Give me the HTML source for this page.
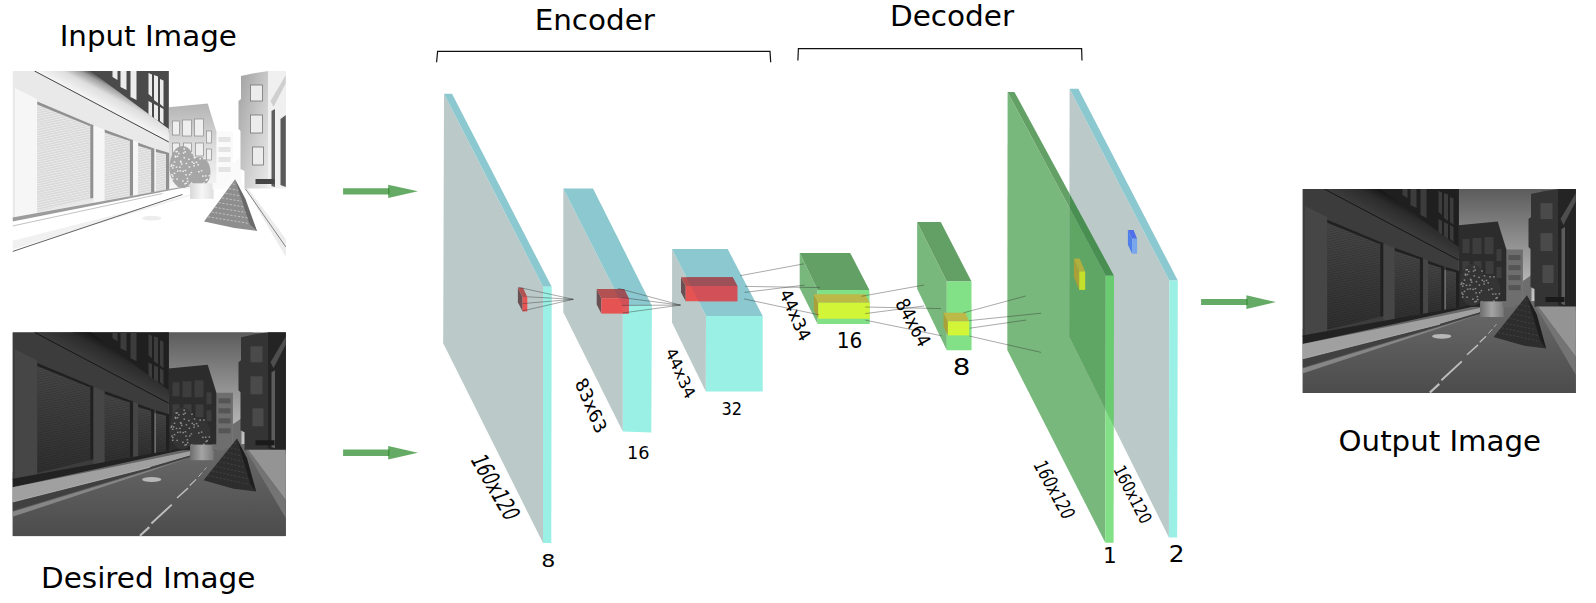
<!DOCTYPE html>
<html lang="en"><head><meta charset="utf-8"><title>Encoder-Decoder network</title>
<style>html,body{margin:0;padding:0;background:#fff}svg{display:block}text{font-family:"DejaVu Sans","Liberation Sans",sans-serif;fill:#000}</style></head><body>
<svg width="1596" height="603" viewBox="0 0 1596 603">
<rect width="1596" height="603" fill="#fff"/>
<defs>
<linearGradient id="skyD" x1="0" y1="0" x2="0" y2="1"><stop offset="0" stop-color="#5c5c5c"/><stop offset="1" stop-color="#c8c8c8"/></linearGradient>
<linearGradient id="roadD" x1="0" y1="0" x2="0" y2="1"><stop offset="0" stop-color="#6a6a6a"/><stop offset="1" stop-color="#4c4c4c"/></linearGradient>
<linearGradient id="plD" x1="0" y1="0" x2="1" y2="0"><stop offset="0" stop-color="#6e6e6e"/><stop offset="0.5" stop-color="#a4a4a4"/><stop offset="1" stop-color="#7a7a7a"/></linearGradient>
<linearGradient id="plB" x1="0" y1="0" x2="1" y2="0"><stop offset="0" stop-color="#d8d8d8"/><stop offset="0.5" stop-color="#f6f6f6"/><stop offset="1" stop-color="#e0e0e0"/></linearGradient>
<linearGradient id="corD" gradientUnits="userSpaceOnUse" x1="50" y1="14.8" x2="62.2" y2="-8.4"><stop offset="0" stop-color="#3c3c3c"/><stop offset="0.6" stop-color="#2c2c2c"/><stop offset="1" stop-color="#151515"/></linearGradient>
<linearGradient id="corB" gradientUnits="userSpaceOnUse" x1="50" y1="14.8" x2="62.2" y2="-8.4"><stop offset="0" stop-color="#f6f6f6"/><stop offset="0.5" stop-color="#dedede"/><stop offset="0.8" stop-color="#a0a0a0"/><stop offset="1" stop-color="#4c4c4c"/></linearGradient>
<linearGradient id="shD" x1="0" y1="0" x2="0" y2="1"><stop offset="0" stop-color="#474747"/><stop offset="1" stop-color="#2f2f2f"/></linearGradient>
<linearGradient id="midB" x1="0" y1="0" x2="0" y2="1"><stop offset="0" stop-color="#b4b4b4"/><stop offset="0.5" stop-color="#dcdcdc"/><stop offset="1" stop-color="#f6f6f6"/></linearGradient>
<linearGradient id="rbB" x1="0" y1="0" x2="1" y2="0.6"><stop offset="0" stop-color="#a0a0a0"/><stop offset="0.6" stop-color="#d4d4d4"/><stop offset="1" stop-color="#f0f0f0"/></linearGradient>
<pattern id="slatD" width="6" height="2.4" patternUnits="userSpaceOnUse" patternTransform="skewY(-12)"><rect width="6" height="0.9" fill="#000" fill-opacity="0.16"/></pattern>
<pattern id="slatB" width="6" height="2.4" patternUnits="userSpaceOnUse" patternTransform="skewY(-12)"><rect width="6" height="0.9" fill="#fff" fill-opacity="0.45"/></pattern>
<clipPath id="ph"><rect x="0" y="0" width="273.4" height="204"/></clipPath>
</defs>
<g transform="translate(12.5 71.0)" clip-path="url(#ph)">
<rect x="0" y="0" width="273.4" height="204" fill="#fff"/>
<rect x="150" y="0" width="90" height="112" fill="#ffffff"/>
<polygon points="0.0,140.0 180.0,112.0 240.0,112.0 273.4,150.0 273.4,204.0 0.0,204.0" fill="#ffffff"/>
<polygon points="203.7,60.4 220.4,60.4 220.4,116.0 203.7,116.0" fill="#fafafa"/>
<rect x="206" y="66" width="12" height="5" fill="#e4e4e4"/>
<rect x="206" y="76" width="12" height="5" fill="#e4e4e4"/>
<rect x="206" y="86" width="12" height="5" fill="#e4e4e4"/>
<rect x="206" y="96" width="12" height="5" fill="#e4e4e4"/>
<polygon points="220.4,92.0 229.0,86.0 229.0,116.0 220.4,116.0" fill="#fafafa"/>
<polygon points="156.0,36.2 195.2,32.4 203.9,60.4 203.9,118.0 156.0,118.0" fill="url(#midB)"/>
<rect x="160" y="50" width="7" height="14" fill="#efefef" stroke="#8a8a8a" stroke-width="0.7"/>
<rect x="170" y="49" width="9" height="16" fill="#efefef" stroke="#8a8a8a" stroke-width="0.7"/>
<rect x="182" y="48" width="9" height="17" fill="#efefef" stroke="#8a8a8a" stroke-width="0.7"/>
<rect x="160" y="72" width="7" height="12" fill="#efefef" stroke="#8a8a8a" stroke-width="0.7"/>
<rect x="171" y="72" width="8" height="13" fill="#efefef" stroke="#8a8a8a" stroke-width="0.7"/>
<rect x="183" y="72" width="8" height="13" fill="#efefef" stroke="#8a8a8a" stroke-width="0.7"/>
<rect x="194" y="60" width="5" height="12" fill="#efefef" stroke="#8a8a8a" stroke-width="0.7"/>
<rect x="194" y="78" width="5" height="11" fill="#efefef" stroke="#8a8a8a" stroke-width="0.7"/>
<polygon points="228.5,5.0 240.0,2.5 256.0,0.0 273.4,0.0 273.4,118.0 232.0,118.0 232.0,100.0 228.0,98.0 228.0,60.0 226.0,58.0 226.0,30.0 228.5,28.0" fill="url(#rbB)"/>
<rect x="238" y="14" width="12" height="16" fill="#ececec" stroke="#777" stroke-width="0.8"/>
<rect x="238" y="44" width="12" height="18" fill="#ececec" stroke="#777" stroke-width="0.8"/>
<rect x="240" y="76" width="11" height="18" fill="#ececec" stroke="#777" stroke-width="0.8"/>
<polygon points="255.5,0.0 273.4,0.0 273.4,122.0 255.5,116.0" fill="#f0f0f0"/>
<polygon points="258.0,30.0 273.4,4.0 273.4,12.0 261.0,36.0" fill="#cfcfcf"/>
<polygon points="259.0,40.0 262.5,38.0 262.5,116.0 259.0,115.0" fill="#5e5e5e"/>
<polygon points="243.0,108.0 262.0,108.0 262.0,113.0 243.0,113.0" fill="#444"/>
<polygon points="268.0,48.0 273.4,44.0 273.4,116.0 268.0,114.0" fill="#5a5a5a"/>
<polygon points="232.0,117.5 273.4,117.5 273.4,168.0 236.0,118.0" fill="#ffffff"/>
<polygon points="233.5,118.0 236.0,118.0 273.4,168.0 273.4,186.0" fill="#ececec"/>
<line x1="233" y1="118" x2="273.4" y2="176" stroke="#555" stroke-width="0.7"/>
<polygon points="0.0,0.0 156.3,0.0 156.3,118.5 0.0,148.0" fill="#e9e9e9"/>
<polygon points="138.0,80.0 156.3,84.0 156.3,118.0 138.0,121.5" fill="#f4f4f4"/>
<polygon points="60.0,0.0 156.3,0.0 156.3,62.0" fill="#4a4a4a"/>
<polygon points="22.0,0.0 78.0,0.0 156.3,58.0 156.3,70.0" fill="url(#corB)"/>
<line x1="22" y1="0" x2="156.3" y2="71" stroke="#1a1a1a" stroke-width="0.8"/>
<polygon points="100.0,0.0 105.0,0.0 105.0,9.0 100.0,6.0" fill="#ececec"/>
<polygon points="108.0,0.0 114.0,0.0 114.0,19.0 108.0,16.0" fill="#ececec"/>
<polygon points="118.0,0.0 124.0,0.0 124.0,29.0 118.0,26.0" fill="#ececec"/>
<polygon points="136.0,2.0 139.5,3.5 139.5,26.0 136.0,23.0" fill="#ececec"/>
<polygon points="141.5,4.0 145.5,5.5 145.5,32.0 141.5,29.0" fill="#ececec"/>
<polygon points="147.5,8.0 151.0,9.5 151.0,36.0 147.5,33.0" fill="#ececec"/>
<polygon points="136.0,30.0 139.5,32.0 139.5,46.0 136.0,43.0" fill="#ececec"/>
<polygon points="141.5,33.0 145.5,35.0 145.5,50.0 141.5,47.0" fill="#ececec"/>
<polygon points="147.5,36.0 151.0,38.0 151.0,53.0 147.5,50.0" fill="#ececec"/>
<polygon points="2.5,17.0 24.5,28.0 24.5,143.0 2.5,147.0" fill="#f6f6f6"/>
<polygon points="24.8,30.6 77.8,53.0 77.8,127.6 24.8,140.7" fill="#d9d9d9"/>
<polygon points="24.8,30.6 77.8,53.0 77.8,127.6 24.8,140.7" fill="url(#slatB)"/>
<polygon points="77.8,53.0 81.0,54.0 81.0,127.0 77.8,127.6" fill="#909090"/>
<polygon points="24.8,30.6 77.8,53.0 77.8,55.2 24.8,33.6" fill="#909090"/>
<polygon points="92.0,58.6 117.4,67.9 117.4,125.0 92.0,131.4" fill="#d9d9d9"/>
<polygon points="92.0,58.6 117.4,67.9 117.4,125.0 92.0,131.4" fill="url(#slatB)"/>
<polygon points="117.4,67.9 120.6,68.9 120.6,124.4 117.4,125.0" fill="#909090"/>
<polygon points="92.0,58.6 117.4,67.9 117.4,70.1 92.0,61.6" fill="#909090"/>
<polygon points="125.6,71.7 138.6,76.5 138.6,122.0 125.6,125.8" fill="#d9d9d9"/>
<polygon points="125.6,71.7 138.6,76.5 138.6,122.0 125.6,125.8" fill="url(#slatB)"/>
<polygon points="138.6,76.5 141.8,77.5 141.8,121.4 138.6,122.0" fill="#909090"/>
<polygon points="125.6,71.7 138.6,76.5 138.6,78.7 125.6,74.7" fill="#909090"/>
<polygon points="143.5,78.0 153.5,81.0 153.5,119.0 143.5,122.0" fill="#d9d9d9"/>
<polygon points="143.5,78.0 153.5,81.0 153.5,119.0 143.5,122.0" fill="url(#slatB)"/>
<polygon points="153.5,81.0 156.7,82.0 156.7,118.4 153.5,119.0" fill="#909090"/>
<polygon points="143.5,78.0 153.5,81.0 153.5,83.2 143.5,81.0" fill="#909090"/>
<polygon points="81.0,54.5 92.0,58.6 92.0,131.4 81.0,133.8" fill="#f6f6f6"/>
<polygon points="120.6,69.2 125.6,71.7 125.6,125.8 120.6,126.8" fill="#f6f6f6"/>
<polygon points="0.0,146.5 156.3,118.2 178.0,114.5 178.0,115.3 0.0,150.5" fill="#9c9c9c"/>
<polygon points="0.0,154.9 137.5,127.1 180.0,118.5 182.0,122.0 137.5,134.9 0.0,169.7" fill="#ffffff"/>
<polygon points="0.0,169.7 137.5,134.9 182.0,122.0 182.0,123.5 137.5,137.0 0.0,178.4" fill="#f1f1f1"/>
<polygon points="0.0,179.5 137.5,137.6 178.0,125.0 137.5,139.0 0.0,184.5" fill="#ffffff"/>
<line x1="0" y1="180.5" x2="170" y2="123.5" stroke="#3a3a3a" stroke-width="0.8"/>
<line x1="0" y1="155" x2="150" y2="122.5" stroke="#999" stroke-width="0.6"/>
<ellipse cx="170" cy="96" rx="13" ry="21" fill="#a6a6a6"/>
<ellipse cx="187" cy="101" rx="11" ry="15" fill="#a6a6a6"/>
<rect x="170.3" y="81.3" width="1.6" height="1.4" fill="#f0f0f0"/>
<rect x="179.0" y="90.4" width="1.6" height="1.4" fill="#f0f0f0"/>
<rect x="159.4" y="96.3" width="1.6" height="1.4" fill="#f0f0f0"/>
<rect x="158.5" y="93.2" width="1.6" height="1.4" fill="#f0f0f0"/>
<rect x="174.4" y="109.7" width="1.6" height="1.4" fill="#f0f0f0"/>
<rect x="162.1" y="84.4" width="1.6" height="1.4" fill="#f0f0f0"/>
<rect x="182.7" y="114.8" width="1.6" height="1.4" fill="#f0f0f0"/>
<rect x="180.7" y="91.7" width="1.6" height="1.4" fill="#f0f0f0"/>
<rect x="162.9" y="79.9" width="1.6" height="1.4" fill="#f0f0f0"/>
<rect x="169.6" y="109.3" width="1.6" height="1.4" fill="#f0f0f0"/>
<rect x="164.4" y="99.4" width="1.6" height="1.4" fill="#f0f0f0"/>
<rect x="183.2" y="90.6" width="1.6" height="1.4" fill="#f0f0f0"/>
<rect x="184.9" y="93.0" width="1.6" height="1.4" fill="#f0f0f0"/>
<rect x="169.9" y="99.6" width="1.6" height="1.4" fill="#f0f0f0"/>
<rect x="175.6" y="87.6" width="1.6" height="1.4" fill="#f0f0f0"/>
<rect x="189.6" y="104.4" width="1.6" height="1.4" fill="#f0f0f0"/>
<rect x="167.0" y="99.1" width="1.6" height="1.4" fill="#f0f0f0"/>
<rect x="178.5" y="111.8" width="1.6" height="1.4" fill="#f0f0f0"/>
<rect x="186.9" y="87.1" width="1.6" height="1.4" fill="#f0f0f0"/>
<rect x="174.1" y="106.8" width="1.6" height="1.4" fill="#f0f0f0"/>
<rect x="163.2" y="95.5" width="1.6" height="1.4" fill="#f0f0f0"/>
<rect x="158.6" y="103.1" width="1.6" height="1.4" fill="#f0f0f0"/>
<rect x="188.3" y="99.1" width="1.6" height="1.4" fill="#f0f0f0"/>
<rect x="185.5" y="100.0" width="1.6" height="1.4" fill="#f0f0f0"/>
<rect x="180.8" y="94.2" width="1.6" height="1.4" fill="#f0f0f0"/>
<rect x="191.4" y="114.7" width="1.6" height="1.4" fill="#f0f0f0"/>
<rect x="176.4" y="102.9" width="1.6" height="1.4" fill="#f0f0f0"/>
<rect x="159.5" y="104.5" width="1.6" height="1.4" fill="#f0f0f0"/>
<rect x="190.7" y="87.0" width="1.6" height="1.4" fill="#f0f0f0"/>
<rect x="172.8" y="103.1" width="1.6" height="1.4" fill="#f0f0f0"/>
<rect x="157.9" y="94.4" width="1.6" height="1.4" fill="#f0f0f0"/>
<rect x="163.9" y="79.9" width="1.6" height="1.4" fill="#f0f0f0"/>
<rect x="159.4" y="107.3" width="1.6" height="1.4" fill="#f0f0f0"/>
<rect x="162.3" y="85.4" width="1.6" height="1.4" fill="#f0f0f0"/>
<rect x="173.0" y="111.6" width="1.6" height="1.4" fill="#f0f0f0"/>
<rect x="160.3" y="93.9" width="1.6" height="1.4" fill="#f0f0f0"/>
<rect x="190.6" y="111.3" width="1.6" height="1.4" fill="#f0f0f0"/>
<rect x="168.4" y="92.4" width="1.6" height="1.4" fill="#f0f0f0"/>
<rect x="171.7" y="112.1" width="1.6" height="1.4" fill="#f0f0f0"/>
<rect x="164.2" y="84.7" width="1.6" height="1.4" fill="#f0f0f0"/>
<rect x="166.6" y="95.4" width="1.6" height="1.4" fill="#f0f0f0"/>
<rect x="181.2" y="86.0" width="1.6" height="1.4" fill="#f0f0f0"/>
<rect x="172.1" y="98.8" width="1.6" height="1.4" fill="#f0f0f0"/>
<rect x="196.1" y="104.0" width="1.6" height="1.4" fill="#f0f0f0"/>
<rect x="178.1" y="100.9" width="1.6" height="1.4" fill="#f0f0f0"/>
<rect x="193.9" y="107.8" width="1.6" height="1.4" fill="#f0f0f0"/>
<rect x="192.9" y="108.5" width="1.6" height="1.4" fill="#f0f0f0"/>
<rect x="173.1" y="91.8" width="1.6" height="1.4" fill="#f0f0f0"/>
<rect x="161.2" y="101.6" width="1.6" height="1.4" fill="#f0f0f0"/>
<rect x="165.6" y="81.8" width="1.6" height="1.4" fill="#f0f0f0"/>
<rect x="170.9" y="77.2" width="1.6" height="1.4" fill="#f0f0f0"/>
<rect x="161.2" y="90.3" width="1.6" height="1.4" fill="#f0f0f0"/>
<rect x="167.3" y="89.6" width="1.6" height="1.4" fill="#f0f0f0"/>
<rect x="171.9" y="80.2" width="1.6" height="1.4" fill="#f0f0f0"/>
<rect x="176.1" y="95.3" width="1.6" height="1.4" fill="#f0f0f0"/>
<rect x="171.0" y="86.1" width="1.6" height="1.4" fill="#f0f0f0"/>
<rect x="178.7" y="81.2" width="1.6" height="1.4" fill="#f0f0f0"/>
<rect x="192.4" y="104.2" width="1.6" height="1.4" fill="#f0f0f0"/>
<rect x="167.7" y="90.4" width="1.6" height="1.4" fill="#f0f0f0"/>
<rect x="163.8" y="107.4" width="1.6" height="1.4" fill="#f0f0f0"/>
<rect x="177.5" y="112.3" width="23.6" height="15.6" fill="url(#plB)"/>
<rect x="200" y="112" width="12" height="6" fill="#fafafa"/>
<ellipse cx="139.2" cy="147.2" rx="9.6" ry="2.4" fill="#ededed"/>
<line x1="127.4" y1="203.4" x2="136.8" y2="194.8" stroke="#ffffff" stroke-width="2.2"/>
<line x1="138.9" y1="191.2" x2="159.3" y2="172.3" stroke="#ffffff" stroke-width="1.9"/>
<line x1="164.5" y1="165.7" x2="175.5" y2="155.8" stroke="#ffffff" stroke-width="1.5"/>
<line x1="177.2" y1="153.2" x2="183.6" y2="147.1" stroke="#ffffff" stroke-width="1.2"/>
<line x1="185.9" y1="144.5" x2="189.7" y2="140.1" stroke="#ffffff" stroke-width="0.9"/>
<line x1="191.5" y1="138.0" x2="194.0" y2="135.0" stroke="#ffffff" stroke-width="0.7"/>
<polygon points="222.6,108.2 244.5,160.0 222.0,157.0 191.5,150.5" fill="#8e8e8e"/>
<polygon points="222.6,108.2 233.0,128.0 244.5,160.0 237.0,153.0" fill="#6a6a6a"/>
<line x1="220.1" y1="112.9" x2="223.5" y2="113.7" stroke="#cccccc" stroke-width="0.8" stroke-dasharray="2.2 1.6"/>
<line x1="216.6" y1="117.6" x2="225.5" y2="119.3" stroke="#cccccc" stroke-width="0.8" stroke-dasharray="2.2 1.6"/>
<line x1="213.1" y1="122.3" x2="227.4" y2="124.8" stroke="#cccccc" stroke-width="0.8" stroke-dasharray="2.2 1.6"/>
<line x1="209.6" y1="127.0" x2="229.3" y2="130.3" stroke="#cccccc" stroke-width="0.8" stroke-dasharray="2.2 1.6"/>
<line x1="206.1" y1="131.7" x2="231.3" y2="135.9" stroke="#cccccc" stroke-width="0.8" stroke-dasharray="2.2 1.6"/>
<line x1="202.6" y1="136.4" x2="233.2" y2="141.4" stroke="#cccccc" stroke-width="0.8" stroke-dasharray="2.2 1.6"/>
<line x1="199.1" y1="141.1" x2="235.1" y2="146.9" stroke="#cccccc" stroke-width="0.8" stroke-dasharray="2.2 1.6"/>
<line x1="195.6" y1="145.8" x2="237.1" y2="152.5" stroke="#cccccc" stroke-width="0.8" stroke-dasharray="2.2 1.6"/>
</g>
<g transform="translate(12.5 332.3)" clip-path="url(#ph)">
<rect x="0" y="0" width="273.4" height="204" fill="#555"/>
<rect x="150" y="0" width="90" height="112" fill="url(#skyD)"/>
<polygon points="0.0,140.0 180.0,112.0 240.0,112.0 273.4,150.0 273.4,204.0 0.0,204.0" fill="url(#roadD)"/>
<polygon points="203.7,60.4 220.4,60.4 220.4,116.0 203.7,116.0" fill="#6e6e6e"/>
<rect x="206" y="66" width="12" height="5" fill="#555"/>
<rect x="206" y="76" width="12" height="5" fill="#555"/>
<rect x="206" y="86" width="12" height="5" fill="#555"/>
<rect x="206" y="96" width="12" height="5" fill="#555"/>
<polygon points="220.4,92.0 229.0,86.0 229.0,116.0 220.4,116.0" fill="#6e6e6e"/>
<polygon points="156.0,36.2 195.2,32.4 203.9,60.4 203.9,118.0 156.0,118.0" fill="#2c2c2c"/>
<rect x="160" y="50" width="7" height="14" fill="#3d3d3d"/>
<rect x="170" y="49" width="9" height="16" fill="#3d3d3d"/>
<rect x="182" y="48" width="9" height="17" fill="#3d3d3d"/>
<rect x="160" y="72" width="7" height="12" fill="#3d3d3d"/>
<rect x="171" y="72" width="8" height="13" fill="#3d3d3d"/>
<rect x="183" y="72" width="8" height="13" fill="#3d3d3d"/>
<rect x="194" y="60" width="5" height="12" fill="#3d3d3d"/>
<rect x="194" y="78" width="5" height="11" fill="#3d3d3d"/>
<polygon points="228.5,5.0 240.0,2.5 256.0,0.0 273.4,0.0 273.4,118.0 232.0,118.0 232.0,100.0 228.0,98.0 228.0,60.0 226.0,58.0 226.0,30.0 228.5,28.0" fill="#343434"/>
<rect x="238" y="14" width="12" height="16" fill="#4a4a4a"/>
<rect x="238" y="44" width="12" height="18" fill="#4a4a4a"/>
<rect x="240" y="76" width="11" height="18" fill="#4a4a4a"/>
<polygon points="255.5,0.0 273.4,0.0 273.4,122.0 255.5,116.0" fill="#242424"/>
<polygon points="258.0,30.0 273.4,4.0 273.4,12.0 261.0,36.0" fill="#4e4e4e"/>
<polygon points="259.0,40.0 262.5,38.0 262.5,116.0 259.0,115.0" fill="#5c5c5c"/>
<polygon points="243.0,108.0 262.0,108.0 262.0,113.0 243.0,113.0" fill="#1a1a1a"/>
<polygon points="232.0,117.5 273.4,117.5 273.4,168.0 236.0,118.0" fill="#949494"/>
<polygon points="233.5,118.0 236.0,118.0 273.4,168.0 273.4,186.0" fill="#747474"/>
<polygon points="0.0,0.0 156.3,0.0 156.3,118.5 0.0,148.0" fill="#3c3c3c"/>
<polygon points="138.0,80.0 156.3,84.0 156.3,118.0 138.0,121.5" fill="#6c6c6c"/>
<polygon points="60.0,0.0 156.3,0.0 156.3,62.0" fill="#1f1f1f"/>
<polygon points="22.0,0.0 78.0,0.0 156.3,58.0 156.3,70.0" fill="url(#corD)"/>
<line x1="22" y1="0" x2="156.3" y2="71" stroke="#0c0c0c" stroke-width="0.8"/>
<polygon points="100.0,0.0 105.0,0.0 105.0,9.0 100.0,6.0" fill="#3c3c3c"/>
<polygon points="108.0,0.0 114.0,0.0 114.0,19.0 108.0,16.0" fill="#3c3c3c"/>
<polygon points="118.0,0.0 124.0,0.0 124.0,29.0 118.0,26.0" fill="#3c3c3c"/>
<polygon points="136.0,2.0 139.5,3.5 139.5,26.0 136.0,23.0" fill="#3c3c3c"/>
<polygon points="141.5,4.0 145.5,5.5 145.5,32.0 141.5,29.0" fill="#3c3c3c"/>
<polygon points="147.5,8.0 151.0,9.5 151.0,36.0 147.5,33.0" fill="#3c3c3c"/>
<polygon points="136.0,30.0 139.5,32.0 139.5,46.0 136.0,43.0" fill="#3c3c3c"/>
<polygon points="141.5,33.0 145.5,35.0 145.5,50.0 141.5,47.0" fill="#3c3c3c"/>
<polygon points="147.5,36.0 151.0,38.0 151.0,53.0 147.5,50.0" fill="#3c3c3c"/>
<polygon points="2.5,17.0 24.5,28.0 24.5,143.0 2.5,147.0" fill="#464646"/>
<polygon points="24.8,30.6 77.8,53.0 77.8,127.6 24.8,140.7" fill="url(#shD)"/>
<polygon points="24.8,30.6 77.8,53.0 77.8,127.6 24.8,140.7" fill="url(#slatD)"/>
<polygon points="77.8,53.0 81.0,54.0 81.0,127.0 77.8,127.6" fill="#202020"/>
<polygon points="24.8,30.6 77.8,53.0 77.8,55.2 24.8,33.6" fill="#202020"/>
<polygon points="92.0,58.6 117.4,67.9 117.4,125.0 92.0,131.4" fill="url(#shD)"/>
<polygon points="92.0,58.6 117.4,67.9 117.4,125.0 92.0,131.4" fill="url(#slatD)"/>
<polygon points="117.4,67.9 120.6,68.9 120.6,124.4 117.4,125.0" fill="#202020"/>
<polygon points="92.0,58.6 117.4,67.9 117.4,70.1 92.0,61.6" fill="#202020"/>
<polygon points="125.6,71.7 138.6,76.5 138.6,122.0 125.6,125.8" fill="url(#shD)"/>
<polygon points="125.6,71.7 138.6,76.5 138.6,122.0 125.6,125.8" fill="url(#slatD)"/>
<polygon points="138.6,76.5 141.8,77.5 141.8,121.4 138.6,122.0" fill="#202020"/>
<polygon points="125.6,71.7 138.6,76.5 138.6,78.7 125.6,74.7" fill="#202020"/>
<polygon points="143.5,78.0 153.5,81.0 153.5,119.0 143.5,122.0" fill="url(#shD)"/>
<polygon points="143.5,78.0 153.5,81.0 153.5,119.0 143.5,122.0" fill="url(#slatD)"/>
<polygon points="153.5,81.0 156.7,82.0 156.7,118.4 153.5,119.0" fill="#202020"/>
<polygon points="143.5,78.0 153.5,81.0 153.5,83.2 143.5,81.0" fill="#202020"/>
<polygon points="81.0,54.5 92.0,58.6 92.0,131.4 81.0,133.8" fill="#464646"/>
<polygon points="120.6,69.2 125.6,71.7 125.6,125.8 120.6,126.8" fill="#464646"/>
<polygon points="0.0,146.5 156.3,118.2 178.0,114.5 178.0,116.0 0.0,155.0" fill="#222222"/>
<polygon points="0.0,154.9 137.5,127.1 180.0,118.5 182.0,122.0 137.5,134.9 0.0,169.7" fill="#a0a0a0"/>
<polygon points="0.0,169.7 137.5,134.9 182.0,122.0 182.0,123.5 137.5,137.0 0.0,178.4" fill="#404040"/>
<polygon points="0.0,179.5 137.5,137.6 178.0,125.0 137.5,139.0 0.0,184.5" fill="#868686"/>
<line x1="0" y1="169.7" x2="137.5" y2="134.9" stroke="#b4b4b4" stroke-width="0.9"/>
<ellipse cx="170" cy="96" rx="13" ry="21" fill="#343434"/>
<ellipse cx="187" cy="101" rx="11" ry="15" fill="#343434"/>
<rect x="170.3" y="81.3" width="1.6" height="1.4" fill="#8e8e8e"/>
<rect x="179.0" y="90.4" width="1.6" height="1.4" fill="#8e8e8e"/>
<rect x="159.4" y="96.3" width="1.6" height="1.4" fill="#8e8e8e"/>
<rect x="158.5" y="93.2" width="1.6" height="1.4" fill="#8e8e8e"/>
<rect x="174.4" y="109.7" width="1.6" height="1.4" fill="#8e8e8e"/>
<rect x="162.1" y="84.4" width="1.6" height="1.4" fill="#8e8e8e"/>
<rect x="182.7" y="114.8" width="1.6" height="1.4" fill="#8e8e8e"/>
<rect x="180.7" y="91.7" width="1.6" height="1.4" fill="#8e8e8e"/>
<rect x="162.9" y="79.9" width="1.6" height="1.4" fill="#8e8e8e"/>
<rect x="169.6" y="109.3" width="1.6" height="1.4" fill="#8e8e8e"/>
<rect x="164.4" y="99.4" width="1.6" height="1.4" fill="#8e8e8e"/>
<rect x="183.2" y="90.6" width="1.6" height="1.4" fill="#8e8e8e"/>
<rect x="184.9" y="93.0" width="1.6" height="1.4" fill="#8e8e8e"/>
<rect x="169.9" y="99.6" width="1.6" height="1.4" fill="#8e8e8e"/>
<rect x="175.6" y="87.6" width="1.6" height="1.4" fill="#8e8e8e"/>
<rect x="189.6" y="104.4" width="1.6" height="1.4" fill="#8e8e8e"/>
<rect x="167.0" y="99.1" width="1.6" height="1.4" fill="#8e8e8e"/>
<rect x="178.5" y="111.8" width="1.6" height="1.4" fill="#8e8e8e"/>
<rect x="186.9" y="87.1" width="1.6" height="1.4" fill="#8e8e8e"/>
<rect x="174.1" y="106.8" width="1.6" height="1.4" fill="#8e8e8e"/>
<rect x="163.2" y="95.5" width="1.6" height="1.4" fill="#8e8e8e"/>
<rect x="158.6" y="103.1" width="1.6" height="1.4" fill="#8e8e8e"/>
<rect x="188.3" y="99.1" width="1.6" height="1.4" fill="#8e8e8e"/>
<rect x="185.5" y="100.0" width="1.6" height="1.4" fill="#8e8e8e"/>
<rect x="180.8" y="94.2" width="1.6" height="1.4" fill="#8e8e8e"/>
<rect x="191.4" y="114.7" width="1.6" height="1.4" fill="#8e8e8e"/>
<rect x="176.4" y="102.9" width="1.6" height="1.4" fill="#8e8e8e"/>
<rect x="159.5" y="104.5" width="1.6" height="1.4" fill="#8e8e8e"/>
<rect x="190.7" y="87.0" width="1.6" height="1.4" fill="#8e8e8e"/>
<rect x="172.8" y="103.1" width="1.6" height="1.4" fill="#8e8e8e"/>
<rect x="157.9" y="94.4" width="1.6" height="1.4" fill="#8e8e8e"/>
<rect x="163.9" y="79.9" width="1.6" height="1.4" fill="#8e8e8e"/>
<rect x="159.4" y="107.3" width="1.6" height="1.4" fill="#8e8e8e"/>
<rect x="162.3" y="85.4" width="1.6" height="1.4" fill="#8e8e8e"/>
<rect x="173.0" y="111.6" width="1.6" height="1.4" fill="#8e8e8e"/>
<rect x="160.3" y="93.9" width="1.6" height="1.4" fill="#8e8e8e"/>
<rect x="190.6" y="111.3" width="1.6" height="1.4" fill="#8e8e8e"/>
<rect x="168.4" y="92.4" width="1.6" height="1.4" fill="#8e8e8e"/>
<rect x="171.7" y="112.1" width="1.6" height="1.4" fill="#8e8e8e"/>
<rect x="164.2" y="84.7" width="1.6" height="1.4" fill="#8e8e8e"/>
<rect x="166.6" y="95.4" width="1.6" height="1.4" fill="#8e8e8e"/>
<rect x="181.2" y="86.0" width="1.6" height="1.4" fill="#8e8e8e"/>
<rect x="172.1" y="98.8" width="1.6" height="1.4" fill="#8e8e8e"/>
<rect x="196.1" y="104.0" width="1.6" height="1.4" fill="#8e8e8e"/>
<rect x="178.1" y="100.9" width="1.6" height="1.4" fill="#8e8e8e"/>
<rect x="193.9" y="107.8" width="1.6" height="1.4" fill="#8e8e8e"/>
<rect x="192.9" y="108.5" width="1.6" height="1.4" fill="#8e8e8e"/>
<rect x="173.1" y="91.8" width="1.6" height="1.4" fill="#8e8e8e"/>
<rect x="161.2" y="101.6" width="1.6" height="1.4" fill="#8e8e8e"/>
<rect x="165.6" y="81.8" width="1.6" height="1.4" fill="#8e8e8e"/>
<rect x="170.9" y="77.2" width="1.6" height="1.4" fill="#8e8e8e"/>
<rect x="161.2" y="90.3" width="1.6" height="1.4" fill="#8e8e8e"/>
<rect x="167.3" y="89.6" width="1.6" height="1.4" fill="#8e8e8e"/>
<rect x="171.9" y="80.2" width="1.6" height="1.4" fill="#8e8e8e"/>
<rect x="176.1" y="95.3" width="1.6" height="1.4" fill="#8e8e8e"/>
<rect x="171.0" y="86.1" width="1.6" height="1.4" fill="#8e8e8e"/>
<rect x="178.7" y="81.2" width="1.6" height="1.4" fill="#8e8e8e"/>
<rect x="192.4" y="104.2" width="1.6" height="1.4" fill="#8e8e8e"/>
<rect x="167.7" y="90.4" width="1.6" height="1.4" fill="#8e8e8e"/>
<rect x="163.8" y="107.4" width="1.6" height="1.4" fill="#8e8e8e"/>
<rect x="177.5" y="112.3" width="23.6" height="15.6" fill="url(#plD)"/>
<rect x="200" y="112" width="12" height="6" fill="#6e6e6e"/>
<ellipse cx="139.2" cy="147.2" rx="9.6" ry="2.4" fill="#b8b8b8"/>
<line x1="127.4" y1="203.4" x2="136.8" y2="194.8" stroke="#bdbdbd" stroke-width="2.2"/>
<line x1="138.9" y1="191.2" x2="159.3" y2="172.3" stroke="#bdbdbd" stroke-width="1.9"/>
<line x1="164.5" y1="165.7" x2="175.5" y2="155.8" stroke="#bdbdbd" stroke-width="1.5"/>
<line x1="177.2" y1="153.2" x2="183.6" y2="147.1" stroke="#bdbdbd" stroke-width="1.2"/>
<line x1="185.9" y1="144.5" x2="189.7" y2="140.1" stroke="#bdbdbd" stroke-width="0.9"/>
<line x1="191.5" y1="138.0" x2="194.0" y2="135.0" stroke="#bdbdbd" stroke-width="0.7"/>
<polygon points="224.5,106.2 243.7,159.3 221.0,156.5 191.1,148.0" fill="#2d2d2d"/>
<polygon points="224.5,106.2 234.5,126.0 243.7,159.3 238.0,152.0" fill="#1d1d1d"/>
<line x1="221.8" y1="110.8" x2="225.2" y2="112.0" stroke="#454545" stroke-width="0.8" stroke-dasharray="2.2 1.6"/>
<line x1="218.1" y1="115.5" x2="226.9" y2="117.7" stroke="#454545" stroke-width="0.8" stroke-dasharray="2.2 1.6"/>
<line x1="214.4" y1="120.1" x2="228.7" y2="123.5" stroke="#454545" stroke-width="0.8" stroke-dasharray="2.2 1.6"/>
<line x1="210.7" y1="124.8" x2="230.4" y2="129.2" stroke="#454545" stroke-width="0.8" stroke-dasharray="2.2 1.6"/>
<line x1="206.9" y1="129.4" x2="232.1" y2="135.0" stroke="#454545" stroke-width="0.8" stroke-dasharray="2.2 1.6"/>
<line x1="203.2" y1="134.1" x2="233.8" y2="140.7" stroke="#454545" stroke-width="0.8" stroke-dasharray="2.2 1.6"/>
<line x1="199.5" y1="138.7" x2="235.6" y2="146.5" stroke="#454545" stroke-width="0.8" stroke-dasharray="2.2 1.6"/>
<line x1="195.8" y1="143.4" x2="237.3" y2="152.2" stroke="#454545" stroke-width="0.8" stroke-dasharray="2.2 1.6"/>
</g>
<g transform="translate(1302.5 189.1)" clip-path="url(#ph)">
<rect x="0" y="0" width="273.4" height="204" fill="#555"/>
<rect x="150" y="0" width="90" height="112" fill="url(#skyD)"/>
<polygon points="0.0,140.0 180.0,112.0 240.0,112.0 273.4,150.0 273.4,204.0 0.0,204.0" fill="url(#roadD)"/>
<polygon points="203.7,60.4 220.4,60.4 220.4,116.0 203.7,116.0" fill="#6e6e6e"/>
<rect x="206" y="66" width="12" height="5" fill="#555"/>
<rect x="206" y="76" width="12" height="5" fill="#555"/>
<rect x="206" y="86" width="12" height="5" fill="#555"/>
<rect x="206" y="96" width="12" height="5" fill="#555"/>
<polygon points="220.4,92.0 229.0,86.0 229.0,116.0 220.4,116.0" fill="#6e6e6e"/>
<polygon points="156.0,36.2 195.2,32.4 203.9,60.4 203.9,118.0 156.0,118.0" fill="#2c2c2c"/>
<rect x="160" y="50" width="7" height="14" fill="#3d3d3d"/>
<rect x="170" y="49" width="9" height="16" fill="#3d3d3d"/>
<rect x="182" y="48" width="9" height="17" fill="#3d3d3d"/>
<rect x="160" y="72" width="7" height="12" fill="#3d3d3d"/>
<rect x="171" y="72" width="8" height="13" fill="#3d3d3d"/>
<rect x="183" y="72" width="8" height="13" fill="#3d3d3d"/>
<rect x="194" y="60" width="5" height="12" fill="#3d3d3d"/>
<rect x="194" y="78" width="5" height="11" fill="#3d3d3d"/>
<polygon points="228.5,5.0 240.0,2.5 256.0,0.0 273.4,0.0 273.4,118.0 232.0,118.0 232.0,100.0 228.0,98.0 228.0,60.0 226.0,58.0 226.0,30.0 228.5,28.0" fill="#343434"/>
<rect x="238" y="14" width="12" height="16" fill="#4a4a4a"/>
<rect x="238" y="44" width="12" height="18" fill="#4a4a4a"/>
<rect x="240" y="76" width="11" height="18" fill="#4a4a4a"/>
<polygon points="255.5,0.0 273.4,0.0 273.4,122.0 255.5,116.0" fill="#242424"/>
<polygon points="258.0,30.0 273.4,4.0 273.4,12.0 261.0,36.0" fill="#4e4e4e"/>
<polygon points="259.0,40.0 262.5,38.0 262.5,116.0 259.0,115.0" fill="#5c5c5c"/>
<polygon points="243.0,108.0 262.0,108.0 262.0,113.0 243.0,113.0" fill="#1a1a1a"/>
<polygon points="232.0,117.5 273.4,117.5 273.4,168.0 236.0,118.0" fill="#949494"/>
<polygon points="233.5,118.0 236.0,118.0 273.4,168.0 273.4,186.0" fill="#747474"/>
<polygon points="0.0,0.0 156.3,0.0 156.3,118.5 0.0,148.0" fill="#3c3c3c"/>
<polygon points="138.0,80.0 156.3,84.0 156.3,118.0 138.0,121.5" fill="#6c6c6c"/>
<polygon points="60.0,0.0 156.3,0.0 156.3,62.0" fill="#1f1f1f"/>
<polygon points="22.0,0.0 78.0,0.0 156.3,58.0 156.3,70.0" fill="url(#corD)"/>
<line x1="22" y1="0" x2="156.3" y2="71" stroke="#0c0c0c" stroke-width="0.8"/>
<polygon points="100.0,0.0 105.0,0.0 105.0,9.0 100.0,6.0" fill="#3c3c3c"/>
<polygon points="108.0,0.0 114.0,0.0 114.0,19.0 108.0,16.0" fill="#3c3c3c"/>
<polygon points="118.0,0.0 124.0,0.0 124.0,29.0 118.0,26.0" fill="#3c3c3c"/>
<polygon points="136.0,2.0 139.5,3.5 139.5,26.0 136.0,23.0" fill="#3c3c3c"/>
<polygon points="141.5,4.0 145.5,5.5 145.5,32.0 141.5,29.0" fill="#3c3c3c"/>
<polygon points="147.5,8.0 151.0,9.5 151.0,36.0 147.5,33.0" fill="#3c3c3c"/>
<polygon points="136.0,30.0 139.5,32.0 139.5,46.0 136.0,43.0" fill="#3c3c3c"/>
<polygon points="141.5,33.0 145.5,35.0 145.5,50.0 141.5,47.0" fill="#3c3c3c"/>
<polygon points="147.5,36.0 151.0,38.0 151.0,53.0 147.5,50.0" fill="#3c3c3c"/>
<polygon points="2.5,17.0 24.5,28.0 24.5,143.0 2.5,147.0" fill="#464646"/>
<polygon points="24.8,30.6 77.8,53.0 77.8,127.6 24.8,140.7" fill="url(#shD)"/>
<polygon points="24.8,30.6 77.8,53.0 77.8,127.6 24.8,140.7" fill="url(#slatD)"/>
<polygon points="77.8,53.0 81.0,54.0 81.0,127.0 77.8,127.6" fill="#202020"/>
<polygon points="24.8,30.6 77.8,53.0 77.8,55.2 24.8,33.6" fill="#202020"/>
<polygon points="92.0,58.6 117.4,67.9 117.4,125.0 92.0,131.4" fill="url(#shD)"/>
<polygon points="92.0,58.6 117.4,67.9 117.4,125.0 92.0,131.4" fill="url(#slatD)"/>
<polygon points="117.4,67.9 120.6,68.9 120.6,124.4 117.4,125.0" fill="#202020"/>
<polygon points="92.0,58.6 117.4,67.9 117.4,70.1 92.0,61.6" fill="#202020"/>
<polygon points="125.6,71.7 138.6,76.5 138.6,122.0 125.6,125.8" fill="url(#shD)"/>
<polygon points="125.6,71.7 138.6,76.5 138.6,122.0 125.6,125.8" fill="url(#slatD)"/>
<polygon points="138.6,76.5 141.8,77.5 141.8,121.4 138.6,122.0" fill="#202020"/>
<polygon points="125.6,71.7 138.6,76.5 138.6,78.7 125.6,74.7" fill="#202020"/>
<polygon points="143.5,78.0 153.5,81.0 153.5,119.0 143.5,122.0" fill="url(#shD)"/>
<polygon points="143.5,78.0 153.5,81.0 153.5,119.0 143.5,122.0" fill="url(#slatD)"/>
<polygon points="153.5,81.0 156.7,82.0 156.7,118.4 153.5,119.0" fill="#202020"/>
<polygon points="143.5,78.0 153.5,81.0 153.5,83.2 143.5,81.0" fill="#202020"/>
<polygon points="81.0,54.5 92.0,58.6 92.0,131.4 81.0,133.8" fill="#464646"/>
<polygon points="120.6,69.2 125.6,71.7 125.6,125.8 120.6,126.8" fill="#464646"/>
<polygon points="0.0,146.5 156.3,118.2 178.0,114.5 178.0,116.0 0.0,155.0" fill="#222222"/>
<polygon points="0.0,154.9 137.5,127.1 180.0,118.5 182.0,122.0 137.5,134.9 0.0,169.7" fill="#a0a0a0"/>
<polygon points="0.0,169.7 137.5,134.9 182.0,122.0 182.0,123.5 137.5,137.0 0.0,178.4" fill="#404040"/>
<polygon points="0.0,179.5 137.5,137.6 178.0,125.0 137.5,139.0 0.0,184.5" fill="#868686"/>
<line x1="0" y1="169.7" x2="137.5" y2="134.9" stroke="#b4b4b4" stroke-width="0.9"/>
<ellipse cx="170" cy="96" rx="13" ry="21" fill="#343434"/>
<ellipse cx="187" cy="101" rx="11" ry="15" fill="#343434"/>
<rect x="170.3" y="81.3" width="1.6" height="1.4" fill="#8e8e8e"/>
<rect x="179.0" y="90.4" width="1.6" height="1.4" fill="#8e8e8e"/>
<rect x="159.4" y="96.3" width="1.6" height="1.4" fill="#8e8e8e"/>
<rect x="158.5" y="93.2" width="1.6" height="1.4" fill="#8e8e8e"/>
<rect x="174.4" y="109.7" width="1.6" height="1.4" fill="#8e8e8e"/>
<rect x="162.1" y="84.4" width="1.6" height="1.4" fill="#8e8e8e"/>
<rect x="182.7" y="114.8" width="1.6" height="1.4" fill="#8e8e8e"/>
<rect x="180.7" y="91.7" width="1.6" height="1.4" fill="#8e8e8e"/>
<rect x="162.9" y="79.9" width="1.6" height="1.4" fill="#8e8e8e"/>
<rect x="169.6" y="109.3" width="1.6" height="1.4" fill="#8e8e8e"/>
<rect x="164.4" y="99.4" width="1.6" height="1.4" fill="#8e8e8e"/>
<rect x="183.2" y="90.6" width="1.6" height="1.4" fill="#8e8e8e"/>
<rect x="184.9" y="93.0" width="1.6" height="1.4" fill="#8e8e8e"/>
<rect x="169.9" y="99.6" width="1.6" height="1.4" fill="#8e8e8e"/>
<rect x="175.6" y="87.6" width="1.6" height="1.4" fill="#8e8e8e"/>
<rect x="189.6" y="104.4" width="1.6" height="1.4" fill="#8e8e8e"/>
<rect x="167.0" y="99.1" width="1.6" height="1.4" fill="#8e8e8e"/>
<rect x="178.5" y="111.8" width="1.6" height="1.4" fill="#8e8e8e"/>
<rect x="186.9" y="87.1" width="1.6" height="1.4" fill="#8e8e8e"/>
<rect x="174.1" y="106.8" width="1.6" height="1.4" fill="#8e8e8e"/>
<rect x="163.2" y="95.5" width="1.6" height="1.4" fill="#8e8e8e"/>
<rect x="158.6" y="103.1" width="1.6" height="1.4" fill="#8e8e8e"/>
<rect x="188.3" y="99.1" width="1.6" height="1.4" fill="#8e8e8e"/>
<rect x="185.5" y="100.0" width="1.6" height="1.4" fill="#8e8e8e"/>
<rect x="180.8" y="94.2" width="1.6" height="1.4" fill="#8e8e8e"/>
<rect x="191.4" y="114.7" width="1.6" height="1.4" fill="#8e8e8e"/>
<rect x="176.4" y="102.9" width="1.6" height="1.4" fill="#8e8e8e"/>
<rect x="159.5" y="104.5" width="1.6" height="1.4" fill="#8e8e8e"/>
<rect x="190.7" y="87.0" width="1.6" height="1.4" fill="#8e8e8e"/>
<rect x="172.8" y="103.1" width="1.6" height="1.4" fill="#8e8e8e"/>
<rect x="157.9" y="94.4" width="1.6" height="1.4" fill="#8e8e8e"/>
<rect x="163.9" y="79.9" width="1.6" height="1.4" fill="#8e8e8e"/>
<rect x="159.4" y="107.3" width="1.6" height="1.4" fill="#8e8e8e"/>
<rect x="162.3" y="85.4" width="1.6" height="1.4" fill="#8e8e8e"/>
<rect x="173.0" y="111.6" width="1.6" height="1.4" fill="#8e8e8e"/>
<rect x="160.3" y="93.9" width="1.6" height="1.4" fill="#8e8e8e"/>
<rect x="190.6" y="111.3" width="1.6" height="1.4" fill="#8e8e8e"/>
<rect x="168.4" y="92.4" width="1.6" height="1.4" fill="#8e8e8e"/>
<rect x="171.7" y="112.1" width="1.6" height="1.4" fill="#8e8e8e"/>
<rect x="164.2" y="84.7" width="1.6" height="1.4" fill="#8e8e8e"/>
<rect x="166.6" y="95.4" width="1.6" height="1.4" fill="#8e8e8e"/>
<rect x="181.2" y="86.0" width="1.6" height="1.4" fill="#8e8e8e"/>
<rect x="172.1" y="98.8" width="1.6" height="1.4" fill="#8e8e8e"/>
<rect x="196.1" y="104.0" width="1.6" height="1.4" fill="#8e8e8e"/>
<rect x="178.1" y="100.9" width="1.6" height="1.4" fill="#8e8e8e"/>
<rect x="193.9" y="107.8" width="1.6" height="1.4" fill="#8e8e8e"/>
<rect x="192.9" y="108.5" width="1.6" height="1.4" fill="#8e8e8e"/>
<rect x="173.1" y="91.8" width="1.6" height="1.4" fill="#8e8e8e"/>
<rect x="161.2" y="101.6" width="1.6" height="1.4" fill="#8e8e8e"/>
<rect x="165.6" y="81.8" width="1.6" height="1.4" fill="#8e8e8e"/>
<rect x="170.9" y="77.2" width="1.6" height="1.4" fill="#8e8e8e"/>
<rect x="161.2" y="90.3" width="1.6" height="1.4" fill="#8e8e8e"/>
<rect x="167.3" y="89.6" width="1.6" height="1.4" fill="#8e8e8e"/>
<rect x="171.9" y="80.2" width="1.6" height="1.4" fill="#8e8e8e"/>
<rect x="176.1" y="95.3" width="1.6" height="1.4" fill="#8e8e8e"/>
<rect x="171.0" y="86.1" width="1.6" height="1.4" fill="#8e8e8e"/>
<rect x="178.7" y="81.2" width="1.6" height="1.4" fill="#8e8e8e"/>
<rect x="192.4" y="104.2" width="1.6" height="1.4" fill="#8e8e8e"/>
<rect x="167.7" y="90.4" width="1.6" height="1.4" fill="#8e8e8e"/>
<rect x="163.8" y="107.4" width="1.6" height="1.4" fill="#8e8e8e"/>
<rect x="177.5" y="112.3" width="23.6" height="15.6" fill="url(#plD)"/>
<rect x="200" y="112" width="12" height="6" fill="#6e6e6e"/>
<ellipse cx="139.2" cy="147.2" rx="9.6" ry="2.4" fill="#b8b8b8"/>
<line x1="127.4" y1="203.4" x2="136.8" y2="194.8" stroke="#bdbdbd" stroke-width="2.2"/>
<line x1="138.9" y1="191.2" x2="159.3" y2="172.3" stroke="#bdbdbd" stroke-width="1.9"/>
<line x1="164.5" y1="165.7" x2="175.5" y2="155.8" stroke="#bdbdbd" stroke-width="1.5"/>
<line x1="177.2" y1="153.2" x2="183.6" y2="147.1" stroke="#bdbdbd" stroke-width="1.2"/>
<line x1="185.9" y1="144.5" x2="189.7" y2="140.1" stroke="#bdbdbd" stroke-width="0.9"/>
<line x1="191.5" y1="138.0" x2="194.0" y2="135.0" stroke="#bdbdbd" stroke-width="0.7"/>
<polygon points="224.5,106.2 243.7,159.3 221.0,156.5 191.1,148.0" fill="#2d2d2d"/>
<polygon points="224.5,106.2 234.5,126.0 243.7,159.3 238.0,152.0" fill="#1d1d1d"/>
<line x1="221.8" y1="110.8" x2="225.2" y2="112.0" stroke="#454545" stroke-width="0.8" stroke-dasharray="2.2 1.6"/>
<line x1="218.1" y1="115.5" x2="226.9" y2="117.7" stroke="#454545" stroke-width="0.8" stroke-dasharray="2.2 1.6"/>
<line x1="214.4" y1="120.1" x2="228.7" y2="123.5" stroke="#454545" stroke-width="0.8" stroke-dasharray="2.2 1.6"/>
<line x1="210.7" y1="124.8" x2="230.4" y2="129.2" stroke="#454545" stroke-width="0.8" stroke-dasharray="2.2 1.6"/>
<line x1="206.9" y1="129.4" x2="232.1" y2="135.0" stroke="#454545" stroke-width="0.8" stroke-dasharray="2.2 1.6"/>
<line x1="203.2" y1="134.1" x2="233.8" y2="140.7" stroke="#454545" stroke-width="0.8" stroke-dasharray="2.2 1.6"/>
<line x1="199.5" y1="138.7" x2="235.6" y2="146.5" stroke="#454545" stroke-width="0.8" stroke-dasharray="2.2 1.6"/>
<line x1="195.8" y1="143.4" x2="237.3" y2="152.2" stroke="#454545" stroke-width="0.8" stroke-dasharray="2.2 1.6"/>
</g>
<polygon points="343.1,188.2 389.4,188.2 389.4,194.4 343.1,194.4" fill="#248624" fill-opacity="0.7"/>
<polygon points="388.2,184.7 417.9,191.3 388.2,197.9" fill="#248624" fill-opacity="0.7"/>
<polygon points="343.1,449.5 389.4,449.5 389.4,455.9 343.1,455.9" fill="#248624" fill-opacity="0.7"/>
<polygon points="388.2,445.9 417.9,452.7 388.2,459.5" fill="#248624" fill-opacity="0.7"/>
<polygon points="1201.1,299.1 1247.6,299.1 1247.6,305.1 1201.1,305.1" fill="#248624" fill-opacity="0.7"/>
<polygon points="1246.4,295.3 1275.9,302.1 1246.4,308.9" fill="#248624" fill-opacity="0.7"/>
<polyline points="436.6,62.3 437.6,51.4 770,51.4 770.7,62.3" fill="none" stroke="#111" stroke-width="1.2"/>
<polyline points="797.9,60.6 798.4,48.6 1081.6,48.6 1082,60.6" fill="none" stroke="#111" stroke-width="1.2"/>
<polygon points="444.0,93.8 543.0,286.8 543.0,543.0 443.2,343.3" fill="#bbcac8"/>
<polygon points="444.0,93.8 452.0,93.8 551.7,286.8 543.0,286.8" fill="#8bc8cf"/>
<polygon points="543.0,286.8 551.7,286.8 551.3,543.0 543.0,543.0" fill="#9af0e4"/>
<polygon points="517.9,287.8 522.6,297.0 522.6,311.4 517.9,302.2" fill="#6a5052"/>
<polygon points="517.9,287.8 523.0,287.8 527.3,297.0 522.6,297.0" fill="#b25151"/>
<polygon points="522.6,297.0 527.3,297.0 527.3,311.4 522.6,311.4" fill="#e65353"/>
<polygon points="563.3,188.5 622.8,305.8 622.8,431.5 563.3,312.3" fill="#bbcac8"/>
<polygon points="563.3,188.5 593.0,188.5 651.9,305.8 622.8,305.8" fill="#8bc8cf"/>
<polygon points="622.8,305.8 651.9,305.8 651.3,432.4 622.8,431.5" fill="#9af0e4"/>
<polygon points="596.7,289.0 601.3,298.2 601.3,313.6 596.7,304.4" fill="#6a5052"/>
<polygon points="596.7,289.0 624.0,289.0 628.7,298.2 601.3,298.2" fill="#b25151"/>
<polygon points="601.3,298.2 628.7,298.2 628.7,313.6 601.3,313.6" fill="#e65353"/>
<clipPath id="kc1"><polygon points="563.3,188.5 593.0,188.5 651.9,305.8 622.8,305.8"/></clipPath>
<g clip-path="url(#kc1)">
<polygon points="596.7,289.0 601.3,298.2 601.3,313.6 596.7,304.4" fill="#6a5052"/>
<polygon points="596.7,289.0 624.0,289.0 628.7,298.2 601.3,298.2" fill="#9d5058"/>
<polygon points="601.3,298.2 628.7,298.2 628.7,313.6 601.3,313.6" fill="#d25057"/>
</g>
<clipPath id="kc2"><polygon points="622.8,305.8 651.9,305.8 651.3,432.4 622.8,431.5"/></clipPath>
<g clip-path="url(#kc2)">
<polygon points="596.7,289.0 601.3,298.2 601.3,313.6 596.7,304.4" fill="#6a5052"/>
<polygon points="596.7,289.0 624.0,289.0 628.7,298.2 601.3,298.2" fill="#9d5058"/>
<polygon points="601.3,298.2 628.7,298.2 628.7,313.6 601.3,313.6" fill="#df5c5e"/>
</g>
<polygon points="672.1,249.1 706.0,316.0 705.8,391.5 672.0,322.5" fill="#bbcac8"/>
<polygon points="672.1,249.1 727.7,249.1 762.7,316.0 706.0,316.0" fill="#8bc8cf"/>
<polygon points="706.0,316.0 762.7,316.0 762.7,391.5 705.8,391.5" fill="#9af0e4"/>
<polygon points="681.0,277.2 685.7,286.1 685.7,301.2 681.0,292.3" fill="#6a5052"/>
<polygon points="681.0,277.2 732.7,277.2 737.3,286.1 685.7,286.1" fill="#b25151"/>
<polygon points="685.7,286.1 737.3,286.1 737.3,301.2 685.7,301.2" fill="#e65353"/>
<clipPath id="kc3"><polygon points="672.1,249.1 727.7,249.1 762.7,316.0 706.0,316.0"/></clipPath>
<g clip-path="url(#kc3)">
<polygon points="681.0,277.2 685.7,286.1 685.7,301.2 681.0,292.3" fill="#6a5052"/>
<polygon points="681.0,277.2 732.7,277.2 737.3,286.1 685.7,286.1" fill="#9d5058"/>
<polygon points="685.7,286.1 737.3,286.1 737.3,301.2 685.7,301.2" fill="#d25057"/>
</g>
<polygon points="799.7,252.9 817.6,289.9 817.6,323.9 799.7,288.3" fill="#79b87c"/>
<polygon points="799.7,252.9 850.2,252.9 869.4,289.9 817.6,289.9" fill="#63a066"/>
<polygon points="817.6,289.9 869.4,289.9 869.8,323.9 817.6,323.9" fill="#82e086"/>
<polygon points="813.8,294.2 818.2,302.8 818.2,318.8 813.8,310.2" fill="#a9a03a"/>
<polygon points="813.8,294.2 865.2,294.2 869.7,302.8 818.2,302.8" fill="#bdb948"/>
<polygon points="818.2,302.8 869.7,302.8 869.7,318.8 818.2,318.8" fill="#d3f538"/>
<polygon points="917.1,222.0 946.8,281.6 946.8,350.2 917.1,288.8" fill="#79b87c"/>
<polygon points="917.1,222.0 940.8,222.0 971.5,281.6 946.8,281.6" fill="#63a066"/>
<polygon points="946.8,281.6 971.5,281.6 971.6,350.2 946.8,350.2" fill="#82e086"/>
<polygon points="943.5,312.8 947.9,321.4 947.9,335.4 943.5,326.8" fill="#a9a03a"/>
<polygon points="943.5,312.8 965.5,312.8 969.1,321.4 947.9,321.4" fill="#bdb948"/>
<polygon points="947.9,321.4 969.1,321.4 969.1,335.4 947.9,335.4" fill="#d3f538"/>
<polygon points="1007.6,91.9 1105.7,275.7 1105.3,542.7 1007.3,350.1" fill="#79b87c"/>
<polygon points="1007.6,91.9 1014.4,91.9 1114.0,275.7 1105.7,275.7" fill="#63a066"/>
<polygon points="1105.7,275.7 1114.0,275.7 1113.6,542.7 1105.3,542.7" fill="#82e086"/>
<polygon points="1073.9,258.6 1079.2,271.4 1079.2,289.9 1073.9,277.1" fill="#a9a03a"/>
<polygon points="1073.9,258.6 1079.6,258.6 1085.2,271.4 1079.2,271.4" fill="#b0b040"/>
<polygon points="1079.2,271.4 1085.2,271.4 1085.2,289.9 1079.2,289.9" fill="#c5e02a"/>
<g>
<polygon points="1069.6,88.8 1169.3,280.5 1168.9,537.5 1069.2,336.7" fill="#bbcac8" fill-opacity="0.999"/>
</g>
<clipPath id="cg"><polygon points="1069.6,88.8 1169.3,280.5 1168.9,537.5 1069.2,336.7"/></clipPath>
<g clip-path="url(#cg)">
<polygon points="1007.6,91.9 1105.7,275.7 1105.3,542.7 1007.3,350.1" fill="#5fa563"/>
<polygon points="1007.6,91.9 1014.4,91.9 1114.0,275.7 1105.7,275.7" fill="#4a8f52"/>
<polygon points="1105.7,275.7 1114.0,275.7 1113.6,542.7 1105.3,542.7" fill="#6acb70"/>
</g>
<polygon points="1073.9,258.6 1079.2,271.4 1079.2,289.9 1073.9,277.1" fill="#a9a03a"/>
<polygon points="1073.9,258.6 1079.6,258.6 1085.2,271.4 1079.2,271.4" fill="#b0b040"/>
<polygon points="1079.2,271.4 1085.2,271.4 1085.2,289.9 1079.2,289.9" fill="#c5e02a"/>
<polygon points="1069.6,88.8 1078.3,88.8 1177.8,280.5 1169.3,280.5" fill="#8bc8cf"/>
<polygon points="1169.3,280.5 1177.8,280.5 1177.2,537.5 1168.9,537.5" fill="#9af0e4"/>
<polygon points="1127.9,229.9 1132.1,238.8 1132.1,253.7 1127.9,244.8" fill="#4f7fe8"/>
<polygon points="1127.9,229.9 1133.6,229.9 1137.1,238.8 1132.1,238.8" fill="#4f70e8"/>
<polygon points="1132.1,238.8 1137.1,238.8 1137.1,253.7 1132.1,253.7" fill="#78a5ec"/>
<line x1="518.3" y1="287.3" x2="573.3" y2="299.3" stroke="#333" stroke-width="0.42"/>
<line x1="527.3" y1="296.8" x2="573.3" y2="299.3" stroke="#333" stroke-width="0.42"/>
<line x1="522.6" y1="303.6" x2="573.3" y2="299.3" stroke="#333" stroke-width="0.42"/>
<line x1="522.6" y1="310.9" x2="573.3" y2="299.3" stroke="#333" stroke-width="0.42"/>
<line x1="617.9" y1="288.3" x2="680.5" y2="305.1" stroke="#333" stroke-width="0.42"/>
<line x1="621.8" y1="297.6" x2="680.5" y2="305.1" stroke="#333" stroke-width="0.42"/>
<line x1="621.8" y1="305.4" x2="680.5" y2="305.1" stroke="#333" stroke-width="0.42"/>
<line x1="622.5" y1="313.0" x2="680.5" y2="305.1" stroke="#333" stroke-width="0.42"/>
<line x1="740.2" y1="275.7" x2="804.1" y2="263.8" stroke="#333" stroke-width="0.42"/>
<line x1="745.2" y1="286.4" x2="819.8" y2="287.6" stroke="#333" stroke-width="0.42"/>
<line x1="744.6" y1="292.4" x2="804.7" y2="285.1" stroke="#333" stroke-width="0.42"/>
<line x1="744.0" y1="298.9" x2="818.9" y2="314.8" stroke="#333" stroke-width="0.42"/>
<line x1="861.5" y1="296.3" x2="924.1" y2="285.0" stroke="#333" stroke-width="0.42"/>
<line x1="865.2" y1="307.0" x2="941.0" y2="308.6" stroke="#333" stroke-width="0.42"/>
<line x1="865.2" y1="313.6" x2="924.1" y2="306.0" stroke="#333" stroke-width="0.42"/>
<line x1="865.2" y1="320.1" x2="941.6" y2="335.8" stroke="#333" stroke-width="0.42"/>
<line x1="963.6" y1="312.8" x2="1025.7" y2="296.0" stroke="#333" stroke-width="0.42"/>
<line x1="969.2" y1="320.6" x2="1041.1" y2="313.2" stroke="#333" stroke-width="0.42"/>
<line x1="969.8" y1="328.2" x2="1026.3" y2="320.0" stroke="#333" stroke-width="0.42"/>
<line x1="969.5" y1="336.1" x2="1041.1" y2="352.4" stroke="#333" stroke-width="0.42"/>
<text transform="matrix(1.4677 0 0 1.3973 59.66 45.60)" font-size="20">Input Image</text>
<text transform="matrix(1.4751 0 0 1.3947 40.95 587.60)" font-size="20">Desired Image</text>
<text transform="matrix(1.4705 0 0 1.4013 534.66 30.10)" font-size="20">Encoder</text>
<text transform="matrix(1.4762 0 0 1.3750 889.95 25.90)" font-size="20">Decoder</text>
<text transform="matrix(1.4633 0 0 1.3784 1338.59 450.90)" font-size="20">Output Image</text>
<text transform="matrix(1.1089 0 0 0.8716 541.36 566.70)" font-size="20">8</text>
<text transform="matrix(0.8864 0 0 0.9257 627.05 458.50)" font-size="20">16</text>
<text transform="matrix(0.8082 0 0 0.8649 721.39 414.50)" font-size="20">32</text>
<text transform="matrix(1.0091 0 0 1.0473 836.78 347.50)" font-size="20">16</text>
<text transform="matrix(1.3861 0 0 1.1622 952.70 374.70)" font-size="20">8</text>
<text transform="matrix(1.0805 0 0 1.0274 1103.02 563.00)" font-size="20">1</text>
<text transform="matrix(1.2391 0 0 1.1622 1168.74 562.40)" font-size="20">2</text>
<text transform="matrix(0.4073 0.7060 -1.1081 0.4122 469.80 458.95)" font-size="20">160x120</text>
<text transform="matrix(0.3462 0.8294 -0.7568 0.5203 574.85 383.22)" font-size="20">83x63</text>
<text transform="matrix(0.3366 0.7673 -0.6757 0.4730 665.26 352.33)" font-size="20">44x34</text>
<text transform="matrix(0.3383 0.7937 -0.7635 0.4730 779.36 293.41)" font-size="20">44x34</text>
<text transform="matrix(0.3930 0.7181 -0.8514 0.4662 894.79 303.37)" font-size="20">84x64</text>
<text transform="matrix(0.3471 0.6340 -0.8986 0.3649 1032.84 464.31)" font-size="20">160x120</text>
<text transform="matrix(0.3247 0.6328 -0.7770 0.3919 1112.99 469.31)" font-size="20">160x120</text>
</svg></body></html>
